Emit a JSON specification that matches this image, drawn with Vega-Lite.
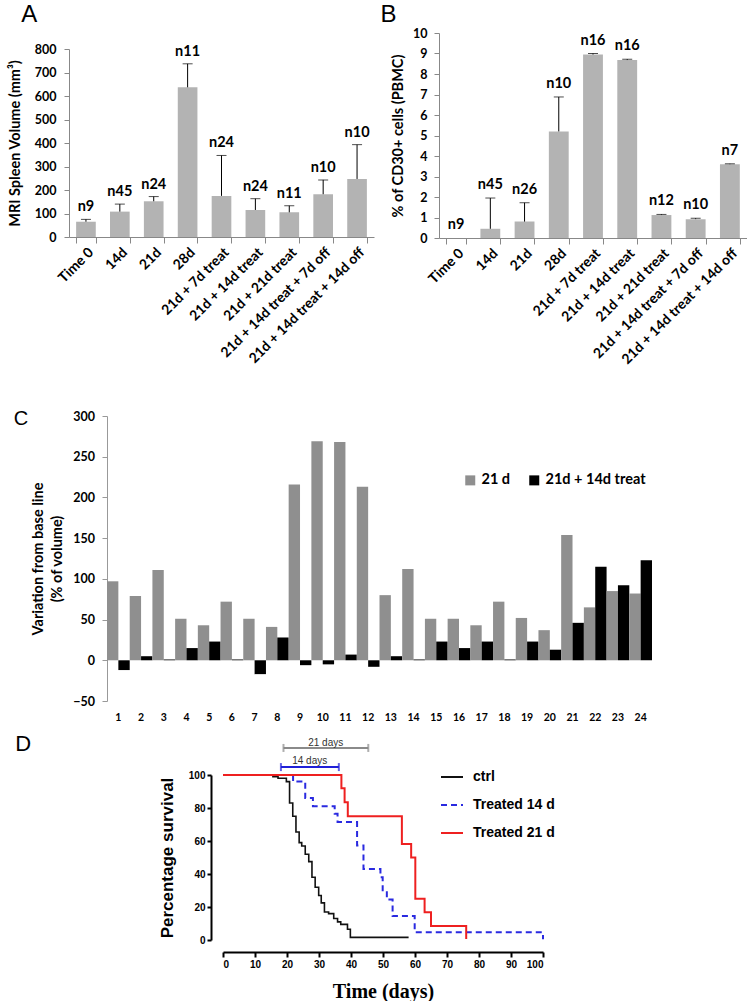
{
  "$schema": "https://vega.github.io/schema/vega-lite/v6.json",
  "padding": {"left": 0, "top": 2, "right": 0, "bottom": 0},
  "background": "white",
  "config": {"view": {"stroke": null}, "font": "Lato", "axis": {"labelOverlap": false}},
  "datasets": {
    "A": [
      {"cat": "Time 0", "v": 65, "e": 75, "n": "n9"},
      {"cat": "14d", "v": 108, "e": 140, "n": "n45"},
      {"cat": "21d", "v": 152, "e": 172, "n": "n24"},
      {"cat": "28d", "v": 637, "e": 737, "n": "n11"},
      {"cat": "21d + 7d treat", "v": 175, "e": 347, "n": "n24"},
      {"cat": "21d + 14d treat", "v": 115, "e": 163, "n": "n24"},
      {"cat": "21d + 21d treat", "v": 105, "e": 133, "n": "n11"},
      {"cat": "21d + 14d treat + 7d off", "v": 182, "e": 243, "n": "n10"},
      {"cat": "21d + 14d treat + 14d off", "v": 247, "e": 393, "n": "n10"}
    ],
    "B": [
      {"cat": "Time 0", "v": 0, "e": 0, "n": "n9"},
      {"cat": "14d", "v": 0.45, "e": 1.95, "n": "n45"},
      {"cat": "21d", "v": 0.8, "e": 1.72, "n": "n26"},
      {"cat": "28d", "v": 5.2, "e": 6.88, "n": "n10"},
      {"cat": "21d + 7d treat", "v": 8.95, "e": 9.0, "n": "n16"},
      {"cat": "21d + 14d treat", "v": 8.68, "e": 8.72, "n": "n16"},
      {"cat": "21d + 21d treat", "v": 1.12, "e": 1.15, "n": "n12"},
      {"cat": "21d + 14d treat + 7d off", "v": 0.92, "e": 0.96, "n": "n10"},
      {"cat": "21d + 14d treat + 14d off", "v": 3.6, "e": 3.62, "n": "n7"}
    ],
    "C": [
      {"id": "1", "series": "21 d", "val": 97}, {"id": "1", "series": "21d + 14d treat", "val": -12},
      {"id": "2", "series": "21 d", "val": 79}, {"id": "2", "series": "21d + 14d treat", "val": 5},
      {"id": "3", "series": "21 d", "val": 111}, {"id": "3", "series": "21d + 14d treat", "val": 1},
      {"id": "4", "series": "21 d", "val": 51}, {"id": "4", "series": "21d + 14d treat", "val": 15},
      {"id": "5", "series": "21 d", "val": 43}, {"id": "5", "series": "21d + 14d treat", "val": 23},
      {"id": "6", "series": "21 d", "val": 72}, {"id": "6", "series": "21d + 14d treat", "val": 1},
      {"id": "7", "series": "21 d", "val": 51}, {"id": "7", "series": "21d + 14d treat", "val": -17},
      {"id": "8", "series": "21 d", "val": 41}, {"id": "8", "series": "21d + 14d treat", "val": 28},
      {"id": "9", "series": "21 d", "val": 216}, {"id": "9", "series": "21d + 14d treat", "val": -6},
      {"id": "10", "series": "21 d", "val": 269}, {"id": "10", "series": "21d + 14d treat", "val": -5},
      {"id": "11", "series": "21 d", "val": 268}, {"id": "11", "series": "21d + 14d treat", "val": 7},
      {"id": "12", "series": "21 d", "val": 213}, {"id": "12", "series": "21d + 14d treat", "val": -8},
      {"id": "13", "series": "21 d", "val": 80}, {"id": "13", "series": "21d + 14d treat", "val": 5},
      {"id": "14", "series": "21 d", "val": 112}, {"id": "14", "series": "21d + 14d treat", "val": 1},
      {"id": "15", "series": "21 d", "val": 51}, {"id": "15", "series": "21d + 14d treat", "val": 23},
      {"id": "16", "series": "21 d", "val": 51}, {"id": "16", "series": "21d + 14d treat", "val": 15},
      {"id": "17", "series": "21 d", "val": 43}, {"id": "17", "series": "21d + 14d treat", "val": 23},
      {"id": "18", "series": "21 d", "val": 72}, {"id": "18", "series": "21d + 14d treat", "val": 1},
      {"id": "19", "series": "21 d", "val": 52}, {"id": "19", "series": "21d + 14d treat", "val": 23},
      {"id": "20", "series": "21 d", "val": 37}, {"id": "20", "series": "21d + 14d treat", "val": 13},
      {"id": "21", "series": "21 d", "val": 154}, {"id": "21", "series": "21d + 14d treat", "val": 46},
      {"id": "22", "series": "21 d", "val": 65}, {"id": "22", "series": "21d + 14d treat", "val": 115},
      {"id": "23", "series": "21 d", "val": 85}, {"id": "23", "series": "21d + 14d treat", "val": 92},
      {"id": "24", "series": "21 d", "val": 82}, {"id": "24", "series": "21d + 14d treat", "val": 123}
    ],
    "km": [
      {"series": "ctrl", "t": 0, "s": 100}, {"series": "ctrl", "t": 15.6, "s": 99}, {"series": "ctrl", "t": 17.2, "s": 98},
      {"series": "ctrl", "t": 19.8, "s": 96}, {"series": "ctrl", "t": 20.8, "s": 83}, {"series": "ctrl", "t": 21.8, "s": 75},
      {"series": "ctrl", "t": 22.8, "s": 65.5}, {"series": "ctrl", "t": 23.8, "s": 59}, {"series": "ctrl", "t": 24.6, "s": 57},
      {"series": "ctrl", "t": 25.7, "s": 52}, {"series": "ctrl", "t": 26.8, "s": 47.5}, {"series": "ctrl", "t": 27.8, "s": 38},
      {"series": "ctrl", "t": 28.8, "s": 32}, {"series": "ctrl", "t": 29.9, "s": 27}, {"series": "ctrl", "t": 30.7, "s": 22.5},
      {"series": "ctrl", "t": 31.7, "s": 17}, {"series": "ctrl", "t": 33, "s": 16}, {"series": "ctrl", "t": 34.6, "s": 13},
      {"series": "ctrl", "t": 35.8, "s": 11}, {"series": "ctrl", "t": 36.8, "s": 9.5}, {"series": "ctrl", "t": 38.9, "s": 6.5},
      {"series": "ctrl", "t": 39.8, "s": 1.6}, {"series": "ctrl", "t": 58, "s": 1.6},
      {"series": "Treated 14 d", "t": 0, "s": 100}, {"series": "Treated 14 d", "t": 21.9, "s": 96},
      {"series": "Treated 14 d", "t": 25.7, "s": 86}, {"series": "Treated 14 d", "t": 28.1, "s": 81},
      {"series": "Treated 14 d", "t": 34.9, "s": 76.5}, {"series": "Treated 14 d", "t": 35.8, "s": 71.5},
      {"series": "Treated 14 d", "t": 41.9, "s": 57.2}, {"series": "Treated 14 d", "t": 43.9, "s": 43},
      {"series": "Treated 14 d", "t": 49.2, "s": 38}, {"series": "Treated 14 d", "t": 49.9, "s": 29},
      {"series": "Treated 14 d", "t": 51.2, "s": 24.5}, {"series": "Treated 14 d", "t": 53, "s": 14.5},
      {"series": "Treated 14 d", "t": 59.9, "s": 4.7}, {"series": "Treated 14 d", "t": 100, "s": 4.7},
      {"series": "Treated 14 d", "t": 100, "s": 0.5},
      {"series": "Treated 21 d", "t": 0, "s": 100}, {"series": "Treated 21 d", "t": 37, "s": 92},
      {"series": "Treated 21 d", "t": 38, "s": 83.5}, {"series": "Treated 21 d", "t": 39, "s": 75},
      {"series": "Treated 21 d", "t": 55.9, "s": 58.2}, {"series": "Treated 21 d", "t": 58.8, "s": 50},
      {"series": "Treated 21 d", "t": 60.1, "s": 25}, {"series": "Treated 21 d", "t": 63, "s": 16.8},
      {"series": "Treated 21 d", "t": 65, "s": 8.5}, {"series": "Treated 21 d", "t": 76, "s": 8.5},
      {"series": "Treated 21 d", "t": 76, "s": 0.6}
    ],
    "br": [
      {"label": "14 days", "x1": 18.1, "x2": 36.2, "y": 104.8, "tx": 27.1, "ty": 108.5},
      {"label": "21 days", "x1": 18.9, "x2": 45.4, "y": 116.4, "tx": 32.1, "ty": 119.5}
    ]
  },
  "resolve": {"scale": {"color": "independent", "strokeDash": "independent"}, "legend": {"color": "independent", "strokeDash": "independent"}},
  "vconcat": [
    {
      "hconcat": [
        {"width": 1, "height": 1, "view": {"fill": "transparent"}, "data": {"values": []}, "mark": "point"},
        {"vconcat": [
          {"width": 1, "height": 1, "view": {"fill": "transparent"}, "data": {"values": []}, "mark": "point"},
          {
            "width": 305, "height": 188,
            "title": {"text": "A", "anchor": "start", "frame": "bounds", "font": "Liberation Sans", "fontSize": 24, "fontWeight": "normal", "color": "black", "baseline": "alphabetic", "offset": -3, "dx": 14},
            "data": {"name": "A"},
            "encoding": {
              "x": {"field": "cat", "type": "nominal", "sort": null, "scale": {"paddingInner": 0.42, "paddingOuter": 0.21},
                "axis": {"title": null, "labelAngle": -45, "labelFont": "Lato", "labelFontSize": 14, "labelFontWeight": "bold", "labelColor": "black", "labelLimit": 400, "labelOverlap": false, "domainColor": "#888", "tickColor": "#888", "tickBand": "extent", "tickSize": 6}}
            },
            "layer": [
              {"mark": {"type": "bar", "color": "#b3b3b3"},
               "encoding": {"y": {"field": "v", "type": "quantitative", "title": "MRI Spleen Volume (mm³)", "scale": {"domain": [0, 800], "nice": false},
                 "axis": {"values": [0, 100, 200, 300, 400, 500, 600, 700, 800], "titleFont": "Lato", "titleFontSize": 14.5, "titleFontWeight": "bold", "titleColor": "black", "titlePadding": 12, "labelFont": "Lato", "labelFontSize": 12.5, "labelFontWeight": "bold", "labelColor": "black", "labelPadding": 8, "labelOverlap": false, "domainColor": "#888", "tickColor": "#888", "tickSize": 5, "grid": false}}}},
              {"transform": [{"filter": "datum.e > datum.v"}], "mark": {"type": "rule", "color": "black", "strokeWidth": 1},
               "encoding": {"y": {"field": "v", "type": "quantitative", "title": "MRI Spleen Volume (mm³)",
                 "axis": {"values": [0, 100, 200, 300, 400, 500, 600, 700, 800], "titleFont": "Lato", "titleFontSize": 14.5, "titleFontWeight": "bold", "titleColor": "black", "titlePadding": 12, "labelFont": "Lato", "labelFontSize": 12.5, "labelFontWeight": "bold", "labelColor": "black", "labelPadding": 8, "labelOverlap": false, "domainColor": "#888", "tickColor": "#888", "tickSize": 5, "grid": false}}, "y2": {"field": "e"}}},
              {"transform": [{"filter": "datum.e > datum.v"}], "mark": {"type": "tick", "orient": "horizontal", "size": 10, "thickness": 1, "color": "black"},
               "encoding": {"y": {"field": "e", "type": "quantitative", "title": "MRI Spleen Volume (mm³)",
                 "axis": {"values": [0, 100, 200, 300, 400, 500, 600, 700, 800], "titleFont": "Lato", "titleFontSize": 14.5, "titleFontWeight": "bold", "titleColor": "black", "titlePadding": 12, "labelFont": "Lato", "labelFontSize": 12.5, "labelFontWeight": "bold", "labelColor": "black", "labelPadding": 8, "labelOverlap": false, "domainColor": "#888", "tickColor": "#888", "tickSize": 5, "grid": false}}}},
              {"mark": {"type": "text", "dy": -8, "baseline": "alphabetic", "font": "Lato", "fontSize": 14.5, "fontWeight": "bold", "color": "black"},
               "encoding": {"y": {"field": "e", "type": "quantitative", "title": "MRI Spleen Volume (mm³)",
                 "axis": {"values": [0, 100, 200, 300, 400, 500, 600, 700, 800], "titleFont": "Lato", "titleFontSize": 14.5, "titleFontWeight": "bold", "titleColor": "black", "titlePadding": 12, "labelFont": "Lato", "labelFontSize": 12.5, "labelFontWeight": "bold", "labelColor": "black", "labelPadding": 8, "labelOverlap": false, "domainColor": "#888", "tickColor": "#888", "tickSize": 5, "grid": false}}, "text": {"field": "n"}}}
            ]
          }
        ], "spacing": 0},
        {"vconcat": [
          {"width": 1, "height": 1, "view": {"fill": "transparent"}, "data": {"values": []}, "mark": "point"},
          {
            "width": 308, "height": 205,
            "title": {"text": "B", "anchor": "start", "frame": "bounds", "font": "Liberation Sans", "fontSize": 24, "fontWeight": "normal", "color": "black", "baseline": "alphabetic", "offset": -19, "dx": -10},
            "data": {"name": "B"},
            "encoding": {
              "x": {"field": "cat", "type": "nominal", "sort": null, "scale": {"paddingInner": 0.42, "paddingOuter": 0.21},
                "axis": {"title": null, "labelAngle": -45, "labelFont": "Lato", "labelFontSize": 14, "labelFontWeight": "bold", "labelColor": "black", "labelLimit": 400, "labelOverlap": false, "domainColor": "#888", "tickColor": "#888", "tickBand": "extent", "tickSize": 6}}
            },
            "layer": [
              {"mark": {"type": "bar", "color": "#b3b3b3"},
               "encoding": {"y": {"field": "v", "type": "quantitative", "title": "% of CD30+ cells (PBMC)", "scale": {"domain": [0, 10], "nice": false},
                 "axis": {"values": [0, 1, 2, 3, 4, 5, 6, 7, 8, 9, 10], "titleFont": "Lato", "titleFontSize": 14.5, "titleFontWeight": "bold", "titleColor": "black", "titlePadding": 7, "labelFont": "Lato", "labelFontSize": 12.5, "labelFontWeight": "bold", "labelColor": "black", "labelPadding": 7, "labelOverlap": false, "domainColor": "#888", "tickColor": "#888", "tickSize": 5, "grid": false}}}},
              {"transform": [{"filter": "datum.e > datum.v"}], "mark": {"type": "rule", "color": "black", "strokeWidth": 1},
               "encoding": {"y": {"field": "v", "type": "quantitative", "title": "% of CD30+ cells (PBMC)",
                 "axis": {"values": [0, 1, 2, 3, 4, 5, 6, 7, 8, 9, 10], "titleFont": "Lato", "titleFontSize": 14.5, "titleFontWeight": "bold", "titleColor": "black", "titlePadding": 7, "labelFont": "Lato", "labelFontSize": 12.5, "labelFontWeight": "bold", "labelColor": "black", "labelPadding": 7, "labelOverlap": false, "domainColor": "#888", "tickColor": "#888", "tickSize": 5, "grid": false}}, "y2": {"field": "e"}}},
              {"transform": [{"filter": "datum.e > datum.v"}], "mark": {"type": "tick", "orient": "horizontal", "size": 10, "thickness": 1, "color": "black"},
               "encoding": {"y": {"field": "e", "type": "quantitative", "title": "% of CD30+ cells (PBMC)",
                 "axis": {"values": [0, 1, 2, 3, 4, 5, 6, 7, 8, 9, 10], "titleFont": "Lato", "titleFontSize": 14.5, "titleFontWeight": "bold", "titleColor": "black", "titlePadding": 7, "labelFont": "Lato", "labelFontSize": 12.5, "labelFontWeight": "bold", "labelColor": "black", "labelPadding": 7, "labelOverlap": false, "domainColor": "#888", "tickColor": "#888", "tickSize": 5, "grid": false}}}},
              {"mark": {"type": "text", "dy": -9, "baseline": "alphabetic", "font": "Lato", "fontSize": 14.5, "fontWeight": "bold", "color": "black"},
               "encoding": {"y": {"field": "e", "type": "quantitative", "title": "% of CD30+ cells (PBMC)",
                 "axis": {"values": [0, 1, 2, 3, 4, 5, 6, 7, 8, 9, 10], "titleFont": "Lato", "titleFontSize": 14.5, "titleFontWeight": "bold", "titleColor": "black", "titlePadding": 7, "labelFont": "Lato", "labelFontSize": 12.5, "labelFontWeight": "bold", "labelColor": "black", "labelPadding": 7, "labelOverlap": false, "domainColor": "#888", "tickColor": "#888", "tickSize": 5, "grid": false}}, "text": {"field": "n"}}}
            ]
          }
        ], "spacing": 0}
      ],
      "spacing": 6
    },
    {
      "resolve": {"scale": {"color": "independent", "strokeDash": "independent"}, "legend": {"color": "independent", "strokeDash": "independent"}},
      "vconcat": [
        {
          "hconcat": [
            {"width": 13, "height": 1, "view": {"fill": "transparent"}, "data": {"values": []}, "mark": "point"},
            {
              "width": 545, "height": 285,
              "title": {"text": "C", "anchor": "start", "frame": "bounds", "font": "Liberation Sans", "fontSize": 20, "fontWeight": "normal", "color": "black", "baseline": "alphabetic", "offset": -35, "dx": -17},
              "data": {"name": "C"},
              "mark": {"type": "bar"},
              "encoding": {
                "x": {"field": "id", "type": "ordinal", "sort": null, "scale": {"paddingInner": 0, "paddingOuter": 0},
                  "axis": {"title": null, "labelAngle": 0, "labelFont": "Lato", "labelFontSize": 10.5, "labelFontWeight": "bold", "labelColor": "black", "domain": false, "ticks": false, "labelPadding": 11}},
                "xOffset": {"field": "series", "type": "nominal", "scale": {"domain": ["21 d", "21d + 14d treat"], "paddingInner": 0, "paddingOuter": 0}},
                "y": {"field": "val", "type": "quantitative", "scale": {"domain": [-50, 300], "nice": false},
                  "axis": {"values": [-50, 0, 50, 100, 150, 200, 250, 300], "title": ["Variation from base line", "(% of volume)"], "titleFont": "Lato", "titleFontSize": 14.5, "titleFontWeight": "bold", "titleColor": "black", "titlePadding": 8, "titleLineHeight": 19, "labelFont": "Lato", "labelFontSize": 12.5, "labelFontWeight": "bold", "labelColor": "black", "labelPadding": 7.5, "labelOverlap": false, "domainColor": "#999", "tickColor": "#999", "tickSize": 5, "grid": false}},
                "color": {"field": "series", "type": "nominal", "scale": {"domain": ["21 d", "21d + 14d treat"], "range": ["#8f8f8f", "#000000"]},
                  "legend": {"orient": "none", "legendX": 463, "legendY": 57, "direction": "horizontal", "title": null, "symbolType": "square", "symbolSize": 100, "symbolStrokeWidth": 0, "labelFont": "Lato", "labelFontSize": 14.5, "labelFontWeight": "bold", "labelColor": "black", "columnPadding": 16, "labelOffset": 4}}
              }
            }
          ],
          "spacing": 0
        },
        {
          "resolve": {"scale": {"color": "independent", "strokeDash": "independent"}, "legend": {"color": "independent", "strokeDash": "independent"}},
          "hconcat": [
            {"width": 15, "height": 1, "view": {"fill": "transparent"}, "data": {"values": []}, "mark": "point"},
            {
              "width": 320, "height": 165,
              "title": {"text": "D", "anchor": "start", "frame": "bounds", "font": "Liberation Sans", "fontSize": 22, "fontWeight": "normal", "color": "black", "baseline": "alphabetic", "offset": -35, "dx": -143},
              "layer": [
                {"data": {"name": "km"}, "transform": [{"filter": "datum.series == 'ctrl'"}],
                 "mark": {"type": "line", "interpolate": "step-after", "strokeWidth": 1.6},
                 "encoding": {
                   "x": {"field": "t", "type": "quantitative", "title": "Time (days)", "scale": {"domain": [0, 100], "nice": false},
                     "axis": {"values": [0, 10, 20, 30, 40, 50, 60, 70, 80, 90, 100], "titleFont": "Liberation Serif", "titleFontSize": 20, "titleFontWeight": "bold", "titleColor": "black", "titlePadding": 12, "offset": 12, "labelFont": "Liberation Sans", "labelFontSize": 10, "labelFontWeight": "bold", "labelColor": "black", "labelPadding": 2, "labelOverlap": false, "domainColor": "black", "domainWidth": 2, "tickColor": "black", "tickWidth": 2, "tickSize": 5, "grid": false}},
                   "y": {"field": "s", "type": "quantitative", "title": "Percentage survival", "scale": {"domain": [0, 100], "nice": false},
                     "axis": {"values": [0, 20, 40, 60, 80, 100], "titleFont": "Liberation Sans", "titleFontSize": 17, "titleFontWeight": "bold", "titleColor": "black", "titlePadding": 12, "offset": 12, "labelFont": "Liberation Sans", "labelFontSize": 10, "labelFontWeight": "bold", "labelColor": "black", "labelPadding": 2, "labelOverlap": false, "domainColor": "black", "domainWidth": 2, "tickColor": "black", "tickWidth": 2, "tickSize": 4, "grid": false}},
                   "color": {"field": "series", "type": "nominal", "title": null, "scale": {"domain": ["ctrl", "Treated 14 d", "Treated 21 d"], "range": ["#111111", "#2a2ae0", "#ee2020"]},
                     "legend": {"orient": "none", "legendX": 217, "legendY": -10, "symbolType": "stroke", "symbolSize": 484, "symbolStrokeWidth": 2, "labelFont": "Liberation Sans", "labelFontSize": 14, "labelFontWeight": "bold", "labelColor": "black", "rowPadding": 9, "labelOffset": 9}},
                   "strokeDash": {"field": "series", "type": "nominal", "title": null, "scale": {"domain": ["ctrl", "Treated 14 d", "Treated 21 d"], "range": [[1, 0], [6, 4], [1, 0]]},
                     "legend": {"orient": "none", "legendX": 217, "legendY": -10, "symbolType": "stroke", "symbolSize": 484, "symbolStrokeWidth": 2, "labelFont": "Liberation Sans", "labelFontSize": 14, "labelFontWeight": "bold", "labelColor": "black", "rowPadding": 9, "labelOffset": 9}}
                 }},
                {"data": {"name": "km"}, "transform": [{"filter": "datum.series == 'Treated 14 d'"}],
                 "mark": {"type": "line", "interpolate": "step-after", "strokeWidth": 2},
                 "encoding": {
                   "x": {"field": "t", "type": "quantitative", "title": "Time (days)",
                     "axis": {"values": [0, 10, 20, 30, 40, 50, 60, 70, 80, 90, 100], "titleFont": "Liberation Serif", "titleFontSize": 20, "titleFontWeight": "bold", "titleColor": "black", "titlePadding": 12, "offset": 12, "labelFont": "Liberation Sans", "labelFontSize": 10, "labelFontWeight": "bold", "labelColor": "black", "labelPadding": 2, "labelOverlap": false, "domainColor": "black", "domainWidth": 2, "tickColor": "black", "tickWidth": 2, "tickSize": 5, "grid": false}},
                   "y": {"field": "s", "type": "quantitative", "title": "Percentage survival",
                     "axis": {"values": [0, 20, 40, 60, 80, 100], "titleFont": "Liberation Sans", "titleFontSize": 17, "titleFontWeight": "bold", "titleColor": "black", "titlePadding": 12, "offset": 12, "labelFont": "Liberation Sans", "labelFontSize": 10, "labelFontWeight": "bold", "labelColor": "black", "labelPadding": 2, "labelOverlap": false, "domainColor": "black", "domainWidth": 2, "tickColor": "black", "tickWidth": 2, "tickSize": 4, "grid": false}},
                   "color": {"field": "series", "type": "nominal", "title": null},
                   "strokeDash": {"field": "series", "type": "nominal", "title": null}
                 }},
                {"data": {"name": "km"}, "transform": [{"filter": "datum.series == 'Treated 21 d'"}],
                 "mark": {"type": "line", "interpolate": "step-after", "strokeWidth": 2},
                 "encoding": {
                   "x": {"field": "t", "type": "quantitative", "title": "Time (days)",
                     "axis": {"values": [0, 10, 20, 30, 40, 50, 60, 70, 80, 90, 100], "titleFont": "Liberation Serif", "titleFontSize": 20, "titleFontWeight": "bold", "titleColor": "black", "titlePadding": 12, "offset": 12, "labelFont": "Liberation Sans", "labelFontSize": 10, "labelFontWeight": "bold", "labelColor": "black", "labelPadding": 2, "labelOverlap": false, "domainColor": "black", "domainWidth": 2, "tickColor": "black", "tickWidth": 2, "tickSize": 5, "grid": false}},
                   "y": {"field": "s", "type": "quantitative", "title": "Percentage survival",
                     "axis": {"values": [0, 20, 40, 60, 80, 100], "titleFont": "Liberation Sans", "titleFontSize": 17, "titleFontWeight": "bold", "titleColor": "black", "titlePadding": 12, "offset": 12, "labelFont": "Liberation Sans", "labelFontSize": 10, "labelFontWeight": "bold", "labelColor": "black", "labelPadding": 2, "labelOverlap": false, "domainColor": "black", "domainWidth": 2, "tickColor": "black", "tickWidth": 2, "tickSize": 4, "grid": false}},
                   "color": {"field": "series", "type": "nominal", "title": null},
                   "strokeDash": {"field": "series", "type": "nominal", "title": null}
                 }},
                {"data": {"name": "br"}, "transform": [{"filter": "datum.label == '21 days'"}],
                 "mark": {"type": "rule", "color": "#8a8a8a", "strokeWidth": 2},
                 "encoding": {
                   "x": {"field": "x1", "type": "quantitative", "title": "Time (days)",
                     "axis": {"values": [0, 10, 20, 30, 40, 50, 60, 70, 80, 90, 100], "titleFont": "Liberation Serif", "titleFontSize": 20, "titleFontWeight": "bold", "titleColor": "black", "titlePadding": 12, "offset": 12, "labelFont": "Liberation Sans", "labelFontSize": 10, "labelFontWeight": "bold", "labelColor": "black", "labelPadding": 2, "labelOverlap": false, "domainColor": "black", "domainWidth": 2, "tickColor": "black", "tickWidth": 2, "tickSize": 5, "grid": false}},
                   "x2": {"field": "x2"},
                   "y": {"field": "y", "type": "quantitative", "title": "Percentage survival",
                     "axis": {"values": [0, 20, 40, 60, 80, 100], "titleFont": "Liberation Sans", "titleFontSize": 17, "titleFontWeight": "bold", "titleColor": "black", "titlePadding": 12, "offset": 12, "labelFont": "Liberation Sans", "labelFontSize": 10, "labelFontWeight": "bold", "labelColor": "black", "labelPadding": 2, "labelOverlap": false, "domainColor": "black", "domainWidth": 2, "tickColor": "black", "tickWidth": 2, "tickSize": 4, "grid": false}}}},
                {"data": {"name": "br"}, "transform": [{"filter": "datum.label == '21 days'"}],
                 "mark": {"type": "tick", "orient": "vertical", "size": 8, "thickness": 2, "color": "#8a8a8a"},
                 "encoding": {
                   "x": {"field": "x1", "type": "quantitative", "title": "Time (days)",
                     "axis": {"values": [0, 10, 20, 30, 40, 50, 60, 70, 80, 90, 100], "titleFont": "Liberation Serif", "titleFontSize": 20, "titleFontWeight": "bold", "titleColor": "black", "titlePadding": 12, "offset": 12, "labelFont": "Liberation Sans", "labelFontSize": 10, "labelFontWeight": "bold", "labelColor": "black", "labelPadding": 2, "labelOverlap": false, "domainColor": "black", "domainWidth": 2, "tickColor": "black", "tickWidth": 2, "tickSize": 5, "grid": false}},
                   "y": {"field": "y", "type": "quantitative", "title": "Percentage survival",
                     "axis": {"values": [0, 20, 40, 60, 80, 100], "titleFont": "Liberation Sans", "titleFontSize": 17, "titleFontWeight": "bold", "titleColor": "black", "titlePadding": 12, "offset": 12, "labelFont": "Liberation Sans", "labelFontSize": 10, "labelFontWeight": "bold", "labelColor": "black", "labelPadding": 2, "labelOverlap": false, "domainColor": "black", "domainWidth": 2, "tickColor": "black", "tickWidth": 2, "tickSize": 4, "grid": false}}}},
                {"data": {"name": "br"}, "transform": [{"filter": "datum.label == '21 days'"}],
                 "mark": {"type": "tick", "orient": "vertical", "size": 8, "thickness": 2, "color": "#8a8a8a"},
                 "encoding": {
                   "x": {"field": "x2", "type": "quantitative", "title": "Time (days)",
                     "axis": {"values": [0, 10, 20, 30, 40, 50, 60, 70, 80, 90, 100], "titleFont": "Liberation Serif", "titleFontSize": 20, "titleFontWeight": "bold", "titleColor": "black", "titlePadding": 12, "offset": 12, "labelFont": "Liberation Sans", "labelFontSize": 10, "labelFontWeight": "bold", "labelColor": "black", "labelPadding": 2, "labelOverlap": false, "domainColor": "black", "domainWidth": 2, "tickColor": "black", "tickWidth": 2, "tickSize": 5, "grid": false}},
                   "y": {"field": "y", "type": "quantitative", "title": "Percentage survival",
                     "axis": {"values": [0, 20, 40, 60, 80, 100], "titleFont": "Liberation Sans", "titleFontSize": 17, "titleFontWeight": "bold", "titleColor": "black", "titlePadding": 12, "offset": 12, "labelFont": "Liberation Sans", "labelFontSize": 10, "labelFontWeight": "bold", "labelColor": "black", "labelPadding": 2, "labelOverlap": false, "domainColor": "black", "domainWidth": 2, "tickColor": "black", "tickWidth": 2, "tickSize": 4, "grid": false}}}},
                {"data": {"name": "br"}, "transform": [{"filter": "datum.label == '14 days'"}],
                 "mark": {"type": "rule", "color": "#2020d8", "strokeWidth": 2},
                 "encoding": {
                   "x": {"field": "x1", "type": "quantitative", "title": "Time (days)",
                     "axis": {"values": [0, 10, 20, 30, 40, 50, 60, 70, 80, 90, 100], "titleFont": "Liberation Serif", "titleFontSize": 20, "titleFontWeight": "bold", "titleColor": "black", "titlePadding": 12, "offset": 12, "labelFont": "Liberation Sans", "labelFontSize": 10, "labelFontWeight": "bold", "labelColor": "black", "labelPadding": 2, "labelOverlap": false, "domainColor": "black", "domainWidth": 2, "tickColor": "black", "tickWidth": 2, "tickSize": 5, "grid": false}},
                   "x2": {"field": "x2"},
                   "y": {"field": "y", "type": "quantitative", "title": "Percentage survival",
                     "axis": {"values": [0, 20, 40, 60, 80, 100], "titleFont": "Liberation Sans", "titleFontSize": 17, "titleFontWeight": "bold", "titleColor": "black", "titlePadding": 12, "offset": 12, "labelFont": "Liberation Sans", "labelFontSize": 10, "labelFontWeight": "bold", "labelColor": "black", "labelPadding": 2, "labelOverlap": false, "domainColor": "black", "domainWidth": 2, "tickColor": "black", "tickWidth": 2, "tickSize": 4, "grid": false}}}},
                {"data": {"name": "br"}, "transform": [{"filter": "datum.label == '14 days'"}],
                 "mark": {"type": "tick", "orient": "vertical", "size": 8, "thickness": 2, "color": "#2020d8"},
                 "encoding": {
                   "x": {"field": "x1", "type": "quantitative", "title": "Time (days)",
                     "axis": {"values": [0, 10, 20, 30, 40, 50, 60, 70, 80, 90, 100], "titleFont": "Liberation Serif", "titleFontSize": 20, "titleFontWeight": "bold", "titleColor": "black", "titlePadding": 12, "offset": 12, "labelFont": "Liberation Sans", "labelFontSize": 10, "labelFontWeight": "bold", "labelColor": "black", "labelPadding": 2, "labelOverlap": false, "domainColor": "black", "domainWidth": 2, "tickColor": "black", "tickWidth": 2, "tickSize": 5, "grid": false}},
                   "y": {"field": "y", "type": "quantitative", "title": "Percentage survival",
                     "axis": {"values": [0, 20, 40, 60, 80, 100], "titleFont": "Liberation Sans", "titleFontSize": 17, "titleFontWeight": "bold", "titleColor": "black", "titlePadding": 12, "offset": 12, "labelFont": "Liberation Sans", "labelFontSize": 10, "labelFontWeight": "bold", "labelColor": "black", "labelPadding": 2, "labelOverlap": false, "domainColor": "black", "domainWidth": 2, "tickColor": "black", "tickWidth": 2, "tickSize": 4, "grid": false}}}},
                {"data": {"name": "br"}, "transform": [{"filter": "datum.label == '14 days'"}],
                 "mark": {"type": "tick", "orient": "vertical", "size": 8, "thickness": 2, "color": "#2020d8"},
                 "encoding": {
                   "x": {"field": "x2", "type": "quantitative", "title": "Time (days)",
                     "axis": {"values": [0, 10, 20, 30, 40, 50, 60, 70, 80, 90, 100], "titleFont": "Liberation Serif", "titleFontSize": 20, "titleFontWeight": "bold", "titleColor": "black", "titlePadding": 12, "offset": 12, "labelFont": "Liberation Sans", "labelFontSize": 10, "labelFontWeight": "bold", "labelColor": "black", "labelPadding": 2, "labelOverlap": false, "domainColor": "black", "domainWidth": 2, "tickColor": "black", "tickWidth": 2, "tickSize": 5, "grid": false}},
                   "y": {"field": "y", "type": "quantitative", "title": "Percentage survival",
                     "axis": {"values": [0, 20, 40, 60, 80, 100], "titleFont": "Liberation Sans", "titleFontSize": 17, "titleFontWeight": "bold", "titleColor": "black", "titlePadding": 12, "offset": 12, "labelFont": "Liberation Sans", "labelFontSize": 10, "labelFontWeight": "bold", "labelColor": "black", "labelPadding": 2, "labelOverlap": false, "domainColor": "black", "domainWidth": 2, "tickColor": "black", "tickWidth": 2, "tickSize": 4, "grid": false}}}},
                {"data": {"name": "br"},
                 "mark": {"type": "text", "font": "Liberation Sans", "fontSize": 10, "color": "#333", "baseline": "middle"},
                 "encoding": {
                   "x": {"field": "tx", "type": "quantitative", "title": "Time (days)",
                     "axis": {"values": [0, 10, 20, 30, 40, 50, 60, 70, 80, 90, 100], "titleFont": "Liberation Serif", "titleFontSize": 20, "titleFontWeight": "bold", "titleColor": "black", "titlePadding": 12, "offset": 12, "labelFont": "Liberation Sans", "labelFontSize": 10, "labelFontWeight": "bold", "labelColor": "black", "labelPadding": 2, "labelOverlap": false, "domainColor": "black", "domainWidth": 2, "tickColor": "black", "tickWidth": 2, "tickSize": 5, "grid": false}},
                   "y": {"field": "ty", "type": "quantitative", "title": "Percentage survival",
                     "axis": {"values": [0, 20, 40, 60, 80, 100], "titleFont": "Liberation Sans", "titleFontSize": 17, "titleFontWeight": "bold", "titleColor": "black", "titlePadding": 12, "offset": 12, "labelFont": "Liberation Sans", "labelFontSize": 10, "labelFontWeight": "bold", "labelColor": "black", "labelPadding": 2, "labelOverlap": false, "domainColor": "black", "domainWidth": 2, "tickColor": "black", "tickWidth": 2, "tickSize": 4, "grid": false}},
                   "text": {"field": "label"}}}
              ]
            }
          ],
          "spacing": 0
        }
      ],
      "spacing": 9
    }
  ],
  "spacing": 42
}
